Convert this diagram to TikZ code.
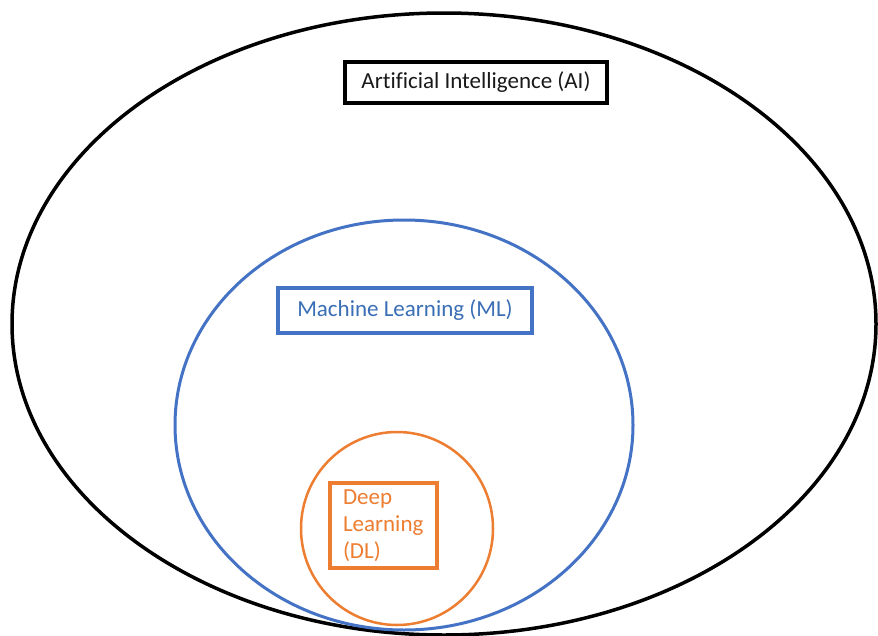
\documentclass[tikz,border=0pt]{standalone}
\usepackage{fontspec}
\setmainfont[Ligatures=NoCommon]{Carlito}
\usetikzlibrary{shapes.geometric}
\definecolor{mlblue}{HTML}{4472C4}
\definecolor{mltext}{HTML}{3A6EB5}
\definecolor{dlorange}{HTML}{ED7D31}
\tikzset{
  set/.style={ellipse, draw, inner sep=0pt},
  tag/.style={draw, rectangle, inner sep=0pt, font=\fontsize{23}{27}\selectfont},
}
\begin{document}
\begin{tikzpicture}[x=1pt, y=-1pt]
  \useasboundingbox (0,0) rectangle (878,635);
  \fill[white] (0,0) rectangle (878,635);

  % nested sets
  \node[set, line width=3.5pt, black, minimum width=864pt, minimum height=622pt] (ai) at (444,324) {};
  \node[set, line width=3pt, mlblue, minimum width=458pt, minimum height=410pt] (ml) at (404,425) {};
  \node[set, line width=2.5pt, dlorange, minimum width=192pt, minimum height=193pt] (dl) at (397,528.5) {};

  % labels
  \node[tag, line width=3.5pt, black, text=black!90, minimum width=262pt, minimum height=41pt] (ailabel) at (476,82.5) {Artificial Intelligence (AI)};
  \node[tag, line width=3.2pt, mlblue, text=mltext, minimum width=254pt, minimum height=45pt] (mllabel) at (405,310.5) {Machine Learning (ML)};
  \node[tag, line width=3.2pt, dlorange, text=dlorange, minimum width=107pt, minimum height=85pt,
        inner xsep=13pt, text width=81pt, align=left] (dllabel) at (383.5,525.5) {Deep\\Learning\\(DL)};
\end{tikzpicture}
\end{document}
